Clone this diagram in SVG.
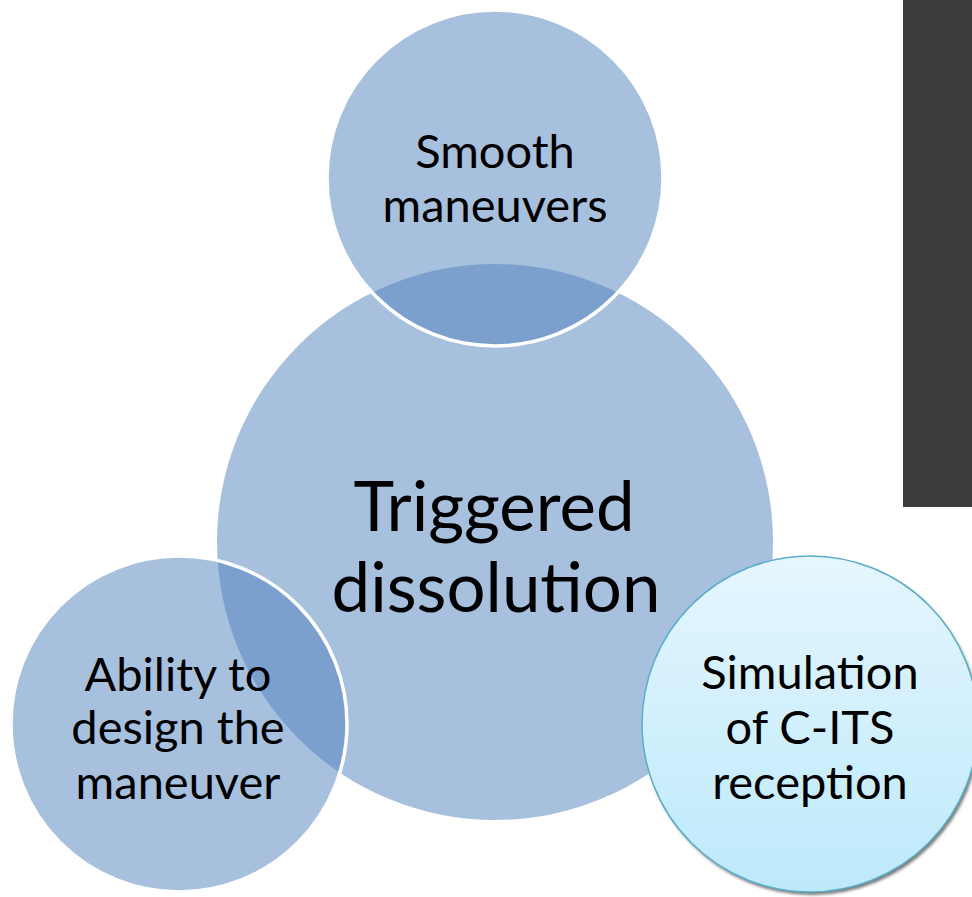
<svg xmlns="http://www.w3.org/2000/svg" width="972" height="897" viewBox="0 0 972 897">
  <defs>
    <style>
      .t { font-family: Lato, "Open Sans", "Liberation Sans", sans-serif; fill: #000; text-anchor: middle; }
      .s { font-size: 47px; }
      .b { font-size: 69px; }
      .fill { fill: #a7c0de; }
      .dark { fill: #7ba0cd; }
      .ring { fill: none; stroke: #ffffff; stroke-width: 3.5; }
    </style>
    <linearGradient id="g" x1="0" y1="0" x2="0" y2="1">
      <stop offset="0" stop-color="#e5f6fe"/>
      <stop offset="1" stop-color="#bde9fb"/>
    </linearGradient>
    <clipPath id="cBig"><circle cx="495" cy="542" r="278"/></clipPath>
    <filter id="sh" x="-10%" y="-10%" width="125%" height="125%">
      <feGaussianBlur stdDeviation="1.5"/>
    </filter>
  </defs>
  <rect width="972" height="897" fill="#ffffff"/>
  <rect x="903" y="0" width="69" height="507" fill="#3c3c3c"/>

  <g id="node-center">
    <circle class="fill" cx="495" cy="542" r="278"/>
  </g>

  <g id="node-top">
    <circle class="fill" cx="495" cy="178" r="168"/>
    <circle class="dark" cx="495" cy="178" r="168" clip-path="url(#cBig)"/>
    <circle class="ring" cx="495" cy="178" r="168"/>
    <text class="t s" x="495" y="168">Smooth</text>
    <text class="t s" x="495" y="222">maneuvers</text>
  </g>

  <g id="node-left">
    <circle class="fill" cx="179" cy="724" r="168"/>
    <circle class="dark" cx="179" cy="724" r="168" clip-path="url(#cBig)"/>
    <circle class="ring" cx="179" cy="724" r="168"/>
    <text class="t s" x="178" y="691">Ability to</text>
    <text class="t s" x="178" y="744">design the</text>
    <text class="t s" x="178" y="799">maneuver</text>
  </g>

  <g id="center-label">
    <text class="t b" x="494" y="531">Triggered</text>
    <text class="t b" x="496" y="612">dissolution</text>
  </g>

  <g id="node-right">
    <circle cx="812" cy="727" r="168" fill="#7a7a7a" filter="url(#sh)"/>
    <circle cx="810" cy="724" r="168" fill="url(#g)" stroke="#5aaec8" stroke-width="1.5"/>
    <text class="t s" x="810" y="689">Simulation</text>
    <text class="t s" x="810" y="744">of C-ITS</text>
    <text class="t s" x="810" y="799">reception</text>
  </g>

  <g id="connectors"></g>
</svg>
